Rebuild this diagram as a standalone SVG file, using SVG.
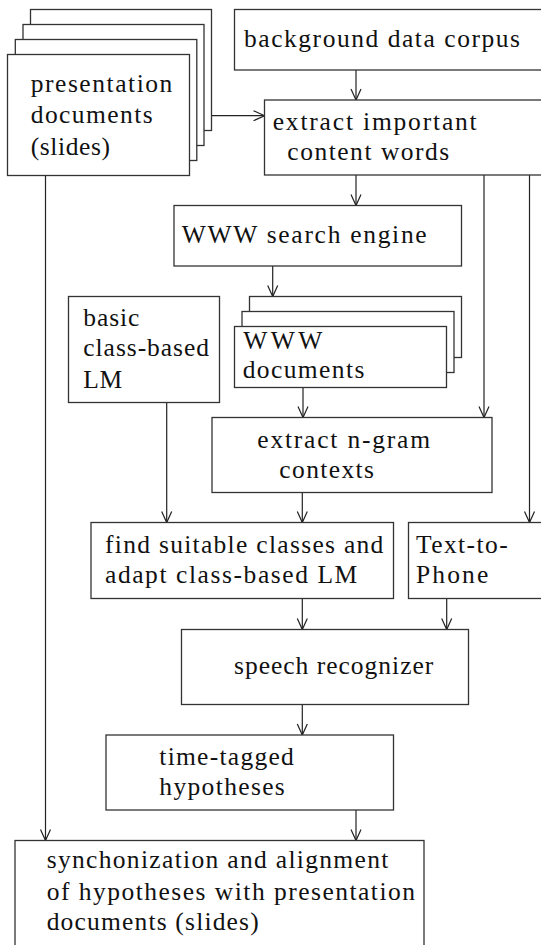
<svg xmlns="http://www.w3.org/2000/svg" width="541" height="945" viewBox="0 0 541 945" font-family="Liberation Serif, Times New Roman, Tinos, Noto Serif, DejaVu Serif, serif">
<defs>
<style>
.box{fill:#fff;stroke:#333;stroke-width:1.3}
.t{font-size:25.5px;fill:#111}
.c{stroke:#222;stroke-width:1.2;fill:none}
</style>
<marker id="ah" markerUnits="userSpaceOnUse" markerWidth="14" markerHeight="14" viewBox="-12 -7 14 14" refX="0" refY="0" orient="auto">
<path d="M-11,-5 L0,0 L-11,5" fill="none" stroke="#222" stroke-width="1.2"/>
</marker>
</defs>
<rect width="541" height="945" fill="#fff"/>

<g id="connectors">
<line class="c" x1="356" y1="70" x2="356" y2="100" marker-end="url(#ah)"/>
<line class="c" x1="211.5" y1="115.7" x2="264.5" y2="115.7" marker-end="url(#ah)"/>
<line class="c" x1="356" y1="175" x2="356" y2="205.5" marker-end="url(#ah)"/>
<line class="c" x1="484" y1="175" x2="484" y2="417.5" marker-end="url(#ah)"/>
<line class="c" x1="529.5" y1="175" x2="529.5" y2="522.5" marker-end="url(#ah)"/>
<line class="c" x1="272.7" y1="266" x2="272.7" y2="296.5" marker-end="url(#ah)"/>
<line class="c" x1="303" y1="387.5" x2="303" y2="417.5" marker-end="url(#ah)"/>
<line class="c" x1="166.7" y1="402.5" x2="166.7" y2="522.5" marker-end="url(#ah)"/>
<line class="c" x1="302.3" y1="492.5" x2="302.3" y2="522.5" marker-end="url(#ah)"/>
<line class="c" x1="302.3" y1="598.5" x2="302.3" y2="629.5" marker-end="url(#ah)"/>
<line class="c" x1="446.7" y1="598.5" x2="446.7" y2="629.5" marker-end="url(#ah)"/>
<line class="c" x1="302.3" y1="704.5" x2="302.3" y2="735" marker-end="url(#ah)"/>
<line class="c" x1="356" y1="810" x2="356" y2="840.5" marker-end="url(#ah)"/>
<line class="c" x1="45.5" y1="175.5" x2="45.5" y2="840.5" marker-end="url(#ah)"/>
</g>

<g id="presentation">
<rect class="box" x="30.5" y="9.5" width="181" height="121"/>
<rect class="box" x="23" y="24.5" width="181" height="121"/>
<rect class="box" x="15.3" y="39.5" width="181.5" height="121"/>
<rect class="box" x="7.5" y="54.5" width="182" height="121"/>
<text class="t" x="30.7" y="92" textLength="141.6" lengthAdjust="spacing">presentation</text>
<text class="t" x="30.7" y="123.3" textLength="122" lengthAdjust="spacing">documents</text>
<text class="t" x="30.7" y="155" textLength="79.3" lengthAdjust="spacing">(slides)</text>
</g>

<g id="background">
<rect class="box" x="234.5" y="9.5" width="320" height="60.5"/>
<text class="t" x="244" y="47" textLength="276" lengthAdjust="spacing">background data corpus</text>
</g>

<g id="extract-words">
<rect class="box" x="264.5" y="100" width="300" height="75"/>
<text class="t" x="272.7" y="130" textLength="204" lengthAdjust="spacing">extract important</text>
<text class="t" x="287.3" y="160" textLength="162" lengthAdjust="spacing">content words</text>
</g>

<g id="search">
<rect class="box" x="174" y="205.5" width="287.5" height="60.5"/>
<text class="t" x="181.7" y="243.3" textLength="245" lengthAdjust="spacing">WWW search engine</text>
</g>

<g id="www-docs">
<rect class="box" x="249.5" y="296.5" width="212" height="61"/>
<rect class="box" x="242" y="311.5" width="212" height="61"/>
<rect class="box" x="234.5" y="326.5" width="212" height="61"/>
<text class="t" x="243.3" y="349.3" textLength="79" lengthAdjust="spacing">WWW</text>
<text class="t" x="242.7" y="378.3" textLength="121.7" lengthAdjust="spacing">documents</text>
</g>

<g id="basic-lm">
<rect class="box" x="68.5" y="296.5" width="151" height="106"/>
<text class="t" x="83.3" y="326" textLength="56" lengthAdjust="spacing">basic</text>
<text class="t" x="83.3" y="356" textLength="125.7" lengthAdjust="spacing">class-based</text>
<text class="t" x="83.3" y="387.7" textLength="39" lengthAdjust="spacing">LM</text>
</g>

<g id="ngram">
<rect class="box" x="212" y="417.5" width="280" height="75"/>
<text class="t" x="257.3" y="447.7" textLength="172.7" lengthAdjust="spacing">extract n-gram</text>
<text class="t" x="279.3" y="477.7" textLength="94.7" lengthAdjust="spacing">contexts</text>
</g>

<g id="find">
<rect class="box" x="91" y="522.5" width="302.5" height="76"/>
<text class="t" x="105" y="553.3" textLength="278.3" lengthAdjust="spacing">find suitable classes and</text>
<text class="t" x="105" y="583.3" textLength="252.3" lengthAdjust="spacing">adapt class-based LM</text>
</g>

<g id="ttp">
<rect class="box" x="408.5" y="522.5" width="200" height="76"/>
<text class="t" x="416" y="553.3" textLength="91.7" lengthAdjust="spacing">Text-to-</text>
<text class="t" x="416" y="583.3" textLength="72.3" lengthAdjust="spacing">Phone</text>
</g>

<g id="speech">
<rect class="box" x="181.5" y="629.5" width="287" height="75"/>
<text class="t" x="234" y="674" textLength="199.3" lengthAdjust="spacing">speech recognizer</text>
</g>

<g id="hyp">
<rect class="box" x="106" y="735" width="287.5" height="75"/>
<text class="t" x="159.3" y="765" textLength="134.5" lengthAdjust="spacing">time-tagged</text>
<text class="t" x="159.3" y="795" textLength="125.5" lengthAdjust="spacing">hypotheses</text>
</g>

<g id="sync">
<rect class="box" x="15" y="840.5" width="409" height="200"/>
<text class="t" x="46.7" y="868.3" textLength="341.6" lengthAdjust="spacing">synchonization and alignment</text>
<text class="t" x="46.7" y="899.5" textLength="368.3" lengthAdjust="spacing">of hypotheses with presentation</text>
<text class="t" x="46.7" y="930" textLength="212" lengthAdjust="spacing">documents (slides)</text>
</g>
</svg>
